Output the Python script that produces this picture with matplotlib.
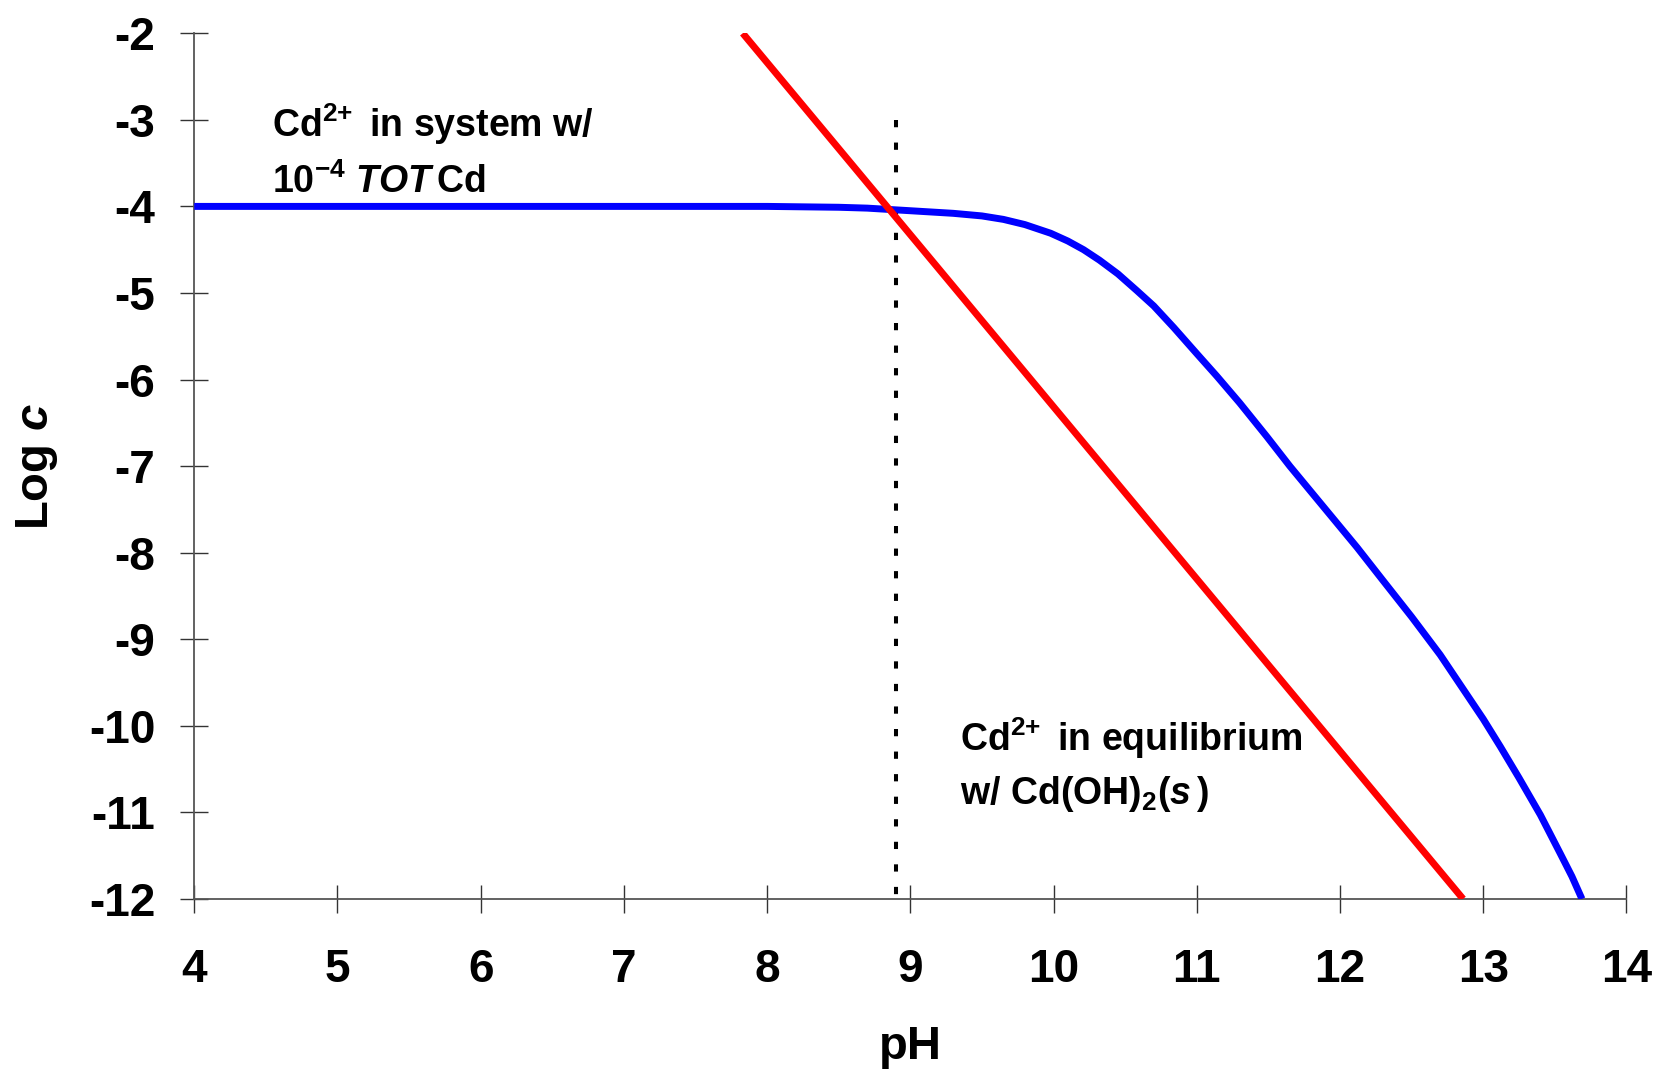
import numpy as np
import matplotlib.pyplot as plt

plt.rcParams['font.family'] = ['Liberation Sans', 'DejaVu Sans']
plt.rcParams['font.weight'] = 'bold'
plt.rcParams['axes.unicode_minus'] = False
plt.rcParams['mathtext.fontset'] = 'custom'
plt.rcParams['mathtext.rm'] = 'Liberation Sans:bold'
plt.rcParams['mathtext.it'] = 'Liberation Sans:italic:bold'
plt.rcParams['mathtext.bf'] = 'Liberation Sans:bold'


############################## Cd2+ in a closed system with 1e-4 M total Cd ##############################
pH_tot = [4.0, 8.0, 8.5, 8.7, 8.9, 9.1, 9.3, 9.5, 9.65, 9.8, 9.98, 10.1, 10.21, 10.32,
          10.45, 10.58, 10.70, 10.84, 11.0, 11.14, 11.3, 11.49, 11.65, 11.81, 11.95,
          12.12, 12.30, 12.50, 12.70, 12.85, 13.00, 13.12, 13.25, 13.40, 13.54, 13.62, 13.69]
logCd_tot = [-4.00, -4.00, -4.01, -4.02, -4.04, -4.06, -4.08, -4.11, -4.15, -4.21, -4.31, -4.40,
             -4.50, -4.62, -4.78, -4.97, -5.15, -5.40, -5.70, -5.96, -6.27, -6.66, -7.00,
             -7.32, -7.60, -7.94, -8.32, -8.74, -9.18, -9.55, -9.92, -10.24, -10.60,
             -11.03, -11.48, -11.74, -12.00]

############################## Cd2+ in equilibrium with Cd(OH)2(s) ##############################
pH_sat = [7.83, 12.86]
logCd_sat = [-2.0, -12.0]

# onset of precipitation
pH_onset = 8.9
onset_span = [-3.0, -12.0]

x_ticks = np.arange(4, 15)
y_ticks = np.arange(-12, -1)


fig = plt.figure(figsize=(16.56, 10.73), dpi=100)
ax = fig.add_axes([0.1173, 0.1622, 0.8648, 0.8068])

ax.plot(pH_tot, logCd_tot, color='#0000ff', lw=5.0, solid_capstyle='butt',
        solid_joinstyle='round', zorder=3)
ax.plot(pH_sat, logCd_sat, color='#ff0000', lw=5.0, solid_capstyle='butt', zorder=3)
ax.plot([pH_onset, pH_onset], onset_span, color='black', lw=2.9,
        dashes=(1.8, 3.8), zorder=2)

ax.set_xlim(4, 14)
ax.set_ylim(-12, -2)
ax.set_xticks(x_ticks)
ax.set_yticks(y_ticks)
ax.set_xticklabels([str(v) for v in x_ticks])
ax.set_yticklabels([str(v) for v in y_ticks])

for side in ['top', 'right']:
    ax.spines[side].set_visible(False)
for side in ['left', 'bottom']:
    ax.spines[side].set_color('#555555')
    ax.spines[side].set_linewidth(1.3)

ax.tick_params(axis='both', direction='inout', length=20, width=1.0, color='#333333',
               labelsize=33)
ax.tick_params(axis='y', pad=18)
ax.tick_params(axis='x', pad=25)
for lab in ax.get_xticklabels() + ax.get_yticklabels():
    lab.set_fontweight('bold')

ax.set_xlabel('pH', fontsize=34, fontweight='bold', labelpad=24)
ax.set_ylabel(r'Log $c$', fontsize=34, fontweight='bold', labelpad=21)

ax.text(4.54, -3.20, r'Cd$^{2{+}}\,$ in system w/', fontsize=27, fontweight='bold')
ax.text(4.54, -3.84, r'10$^{-4}$ $TOT\,$Cd', fontsize=27, fontweight='bold')
ax.text(9.35, -10.29, r'Cd$^{2{+}}\,$ in equilibrium', fontsize=27, fontweight='bold')
ax.text(9.35, -10.90, r'w/ Cd(OH)$_2$($s\,$)', fontsize=27, fontweight='bold')

fig.savefig('out.png', dpi=100)
